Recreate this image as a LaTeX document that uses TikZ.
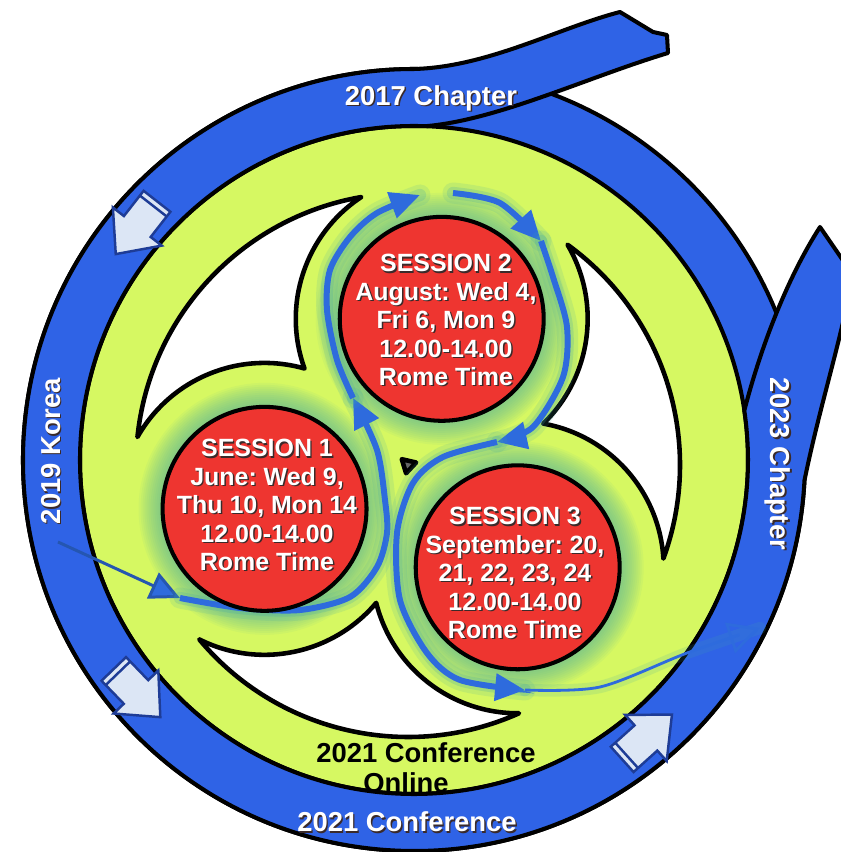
\documentclass[tikz,border=0pt]{standalone}
\usepackage{fontspec}
\setmainfont{Liberation Sans}
\usepackage{tikz}
\usetikzlibrary{
  arrows.meta,
  calc
}
\frenchspacing
\definecolor{ringblue}{HTML}{2F63E6}
\definecolor{limefill}{HTML}{D6F862}
\definecolor{sessred}{HTML}{EE3530}
\definecolor{flowblue}{HTML}{2E6BDD}
\definecolor{glowteal}{HTML}{3FA7A8}
\definecolor{tipfill}{HTML}{DCE6F5}
\definecolor{tipline}{HTML}{1E3C96}
\definecolor{shadowc}{HTML}{3A2A2A}
\newcommand{\sesstext}{\fontsize{14.2pt}{16.2pt}\selectfont\bfseries}
\newcommand{\ringtext}{\fontsize{15.6pt}{18pt}\selectfont\bfseries}
\newcommand{\wlabel}[4][]{%
  \node[wtext, text=shadowc, #1] (#2sh) at ($(#3)+(1.4,-1.4)$) {#4};
  \node[wtext, #1] (#2) at (#3) {#4};}

\begin{document}
\begin{tikzpicture}[x=0.02cm, y=0.02cm,
  outline/.style={draw=black, line width=2.3pt, line join=round},
  band/.style={outline, fill=ringblue},
  hole/.style={draw=black, line width=2.6pt, fill=white, line join=round},
  session/.style={circle, draw=black, line width=2.3pt, fill=sessred,
                  minimum size=4.08cm, inner sep=0pt},
  wtext/.style={text=white, align=center, inner sep=0pt},
  ktext/.style={text=black, font=\ringtext, inner sep=0pt},
  glow/.style={preaction={draw=glowteal, line width=12pt, opacity=.14, -, line cap=round},
               preaction={draw=glowteal, line width=7pt, opacity=.22, -, line cap=round}},
  flow/.style={glow, draw=flowblue, line width=3.4pt,
               -{Triangle[length=17pt,width=15pt]}},
  entryflow/.style={draw=flowblue!80!black, line width=1.7pt,
                    -{Triangle[length=17pt,width=16pt,fill=flowblue]}},
  exitflow/.style={draw=flowblue, line width=1.6pt,
                   preaction={draw=glowteal, line width=7pt, opacity=.15, -, line cap=round},
                   -{Triangle[open,length=18pt,width=18pt]}},
  barrow/.style={draw=tipline, line width=1.4pt, fill=tipfill},
]
  \path[fill=white, use as bounding box] (-408,-387) rectangle (433,465);

  % Ring centre and session centres
  \coordinate (rc) at (6,5);
  \coordinate (c1) at (197:150);
  \coordinate (c2) at (77:150);
  \coordinate (c3) at (317:150);

  % Green disk and blue ring
  \fill[limefill] (rc) circle[radius=334];
  \draw[band, even odd rule] (rc) circle[radius=391] (rc) circle[radius=334];

  % Spiral band: top ribbon, ring, right tail
  \draw[band]
    (212,453) -- (245,433) -- (259,430) -- (260,412)
    .. controls (180,388) and (90,345) .. ($(rc)+(88:334)$)
    arc[start angle=88, end angle=368.5, radius=334]
    .. controls (352,115) and (378,185) .. (412,238)
    -- (445,190)
    .. controls (432,120) and (412,60) .. ($(rc)+(357:391)$)
    arc[start angle=357, end angle=90, radius=391]
    .. controls (80,398) and (150,437) .. (212,453)
    -- cycle;

  % White holes between the sessions
  \foreach \rot in {0,120,240} {
    \draw[hole, rotate=\rot] (99.9:272)
      arc[start angle=99.9, end angle=174.1, radius=272]
      arc[start angle=150.5, end angle=74.1, radius=146]
      arc[start angle=199.9, end angle=123.5, radius=146] -- cycle;
  }
  \draw[hole, fill=black!60] (137:8.5) -- (257:8.5) -- (17:8.5) -- cycle;

  % Block arrows on the ring
  \foreach \ang/\dir in {140/232, 220/314, 310/42} {
    \begin{scope}[shift={($(rc)+(\ang:362)$)}, rotate=\dir]
      \draw[barrow] (-33,-17) -- (-1,-17) -- (-1,-31) -- (34,0)
        -- (-1,31) -- (-1,17) -- (-33,17) -- cycle;
      \draw[tipline, line width=1.4pt] (-27,-17) -- (-27,17);
    \end{scope}
  }

  % Glow round the sessions
  \foreach \c in {c1,c2,c3} {
    \foreach \r in {104,106,...,126} {
      \fill[glowteal, opacity=.06] (\c) circle[radius=\r];
    }
  }

  % Flow arrows
  \coordinate (k0) at (-350,-77);
  \coordinate (a0) at (-228,-133);
  \coordinate (a1) at (-55,67);
  \coordinate (a2) at (12,270);
  \coordinate (b0) at (45,272);
  \coordinate (b1) at (133,224);
  \coordinate (b2) at (89,23);
  \coordinate (b3) at (117,-225);
  \coordinate (b4) at (352,-163);

  \draw[entryflow] (k0) -- (a0);
  \draw[flow] plot[smooth] coordinates {(a0) (-168,-143) (-108,-145) (-58,-132)
    (-31,-102) (-21,-68) (-23,-35) (-31,15) (a1)};
  \draw[flow] plot[smooth] coordinates {(a1) (-71,105) (-81,155) (-78,195)
    (-58,228) (-31,252) (a2)};
  \draw[flow] plot[smooth] coordinates {(b0) (92,262) (b1)};
  \draw[flow] plot[smooth] coordinates {(b1) (145,188) (159,138) (155,88)
    (125,38) (b2)};
  \draw[flow] plot[smooth] coordinates {(b2) (35,8) (5,-18) (-11,-68)
    (-8,-135) (19,-188) (52,-215) (b3)};
  \draw[exitflow] plot[smooth] coordinates {(b3) (192,-222) (279,-188) (b4)};

  % Sessions
  \node[session] (sess1) at (c1) {};
  \node[session] (sess2) at (c2) {};
  \node[session] (sess3) at (c3) {};
  \wlabel[font=\sesstext]{txt1}{-141,-40}
    {SESSION 1\\June: Wed 9,\\Thu 10, Mon 14\\12.00-14.00\\Rome Time}
  \wlabel[font=\sesstext]{txt2}{38,145}
    {SESSION 2\\August: Wed 4,\\Fri 6, Mon 9\\12.00-14.00\\Rome Time}
  \wlabel[font=\sesstext]{txt3}{107,-108}
    {SESSION 3\\September: 20,\\21, 22, 23, 24\\12.00-14.00\\Rome Time}

  % Ring labels
  \wlabel[font=\ringtext]{lbl2017}{23,367}{2017 Chapter}
  \wlabel[font=\ringtext, rotate=90]{lbl2019}{-357,14}{2019 Korea}
  \wlabel[font=\ringtext, rotate=-90]{lbl2023}{370,1}{2023 Chapter}
  \wlabel[font=\ringtext]{lbl2021}{-1,-357}{2021 Conference}
  \node[ktext] (conf) at (18,-288) {2021 Conference};
  \node[ktext] (online) at (-2,-318) {Online};

\end{tikzpicture}
\end{document}
